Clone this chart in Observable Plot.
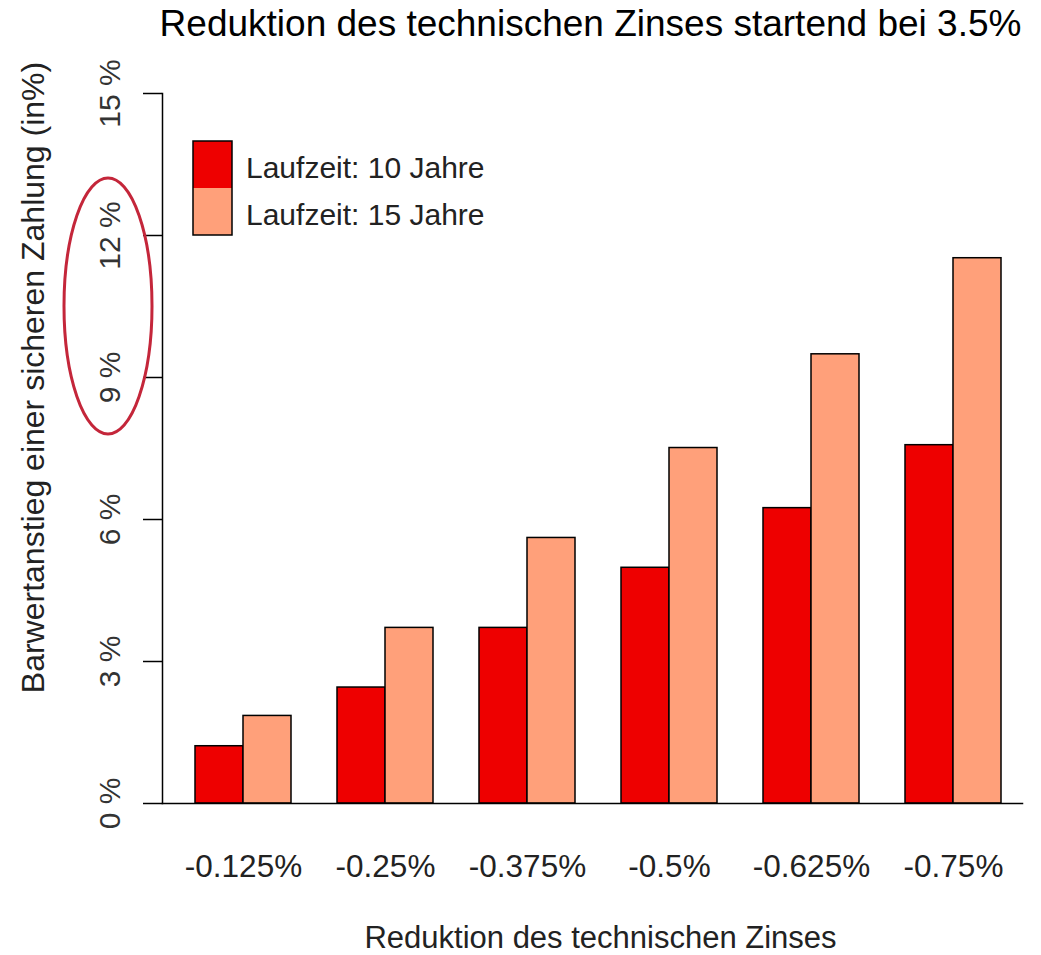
<!DOCTYPE html>
<html>
<head>
<meta charset="utf-8">
<script src="https://cdn.jsdelivr.net/npm/d3@7"></script>
<script src="https://cdn.jsdelivr.net/npm/@observablehq/plot@0.6"></script>
<style>
  html, body { margin: 0; padding: 0; background: #fff; }
  svg { font-family: "Liberation Sans", Arial, sans-serif; }
</style>
</head>
<body>
<div id="chart"></div>
<script>
const groups = ["-0.125%", "-0.25%", "-0.375%", "-0.5%", "-0.625%", "-0.75%"];
const series = ["Laufzeit: 10 Jahre", "Laufzeit: 15 Jahre"];
const values10 = [1.21, 2.45, 3.71, 4.98, 6.24, 7.57];
const values15 = [1.85, 3.71, 5.61, 7.51, 9.49, 11.52];
const yTicks = [0, 3, 6, 9, 12, 15];
const colors = ["#EE0000", "#FFA07A"];
const title = "Reduktion des technischen Zinses startend bei 3.5%";
const xLabel = "Reduktion des technischen Zinses";
const yLabel = "Barwertanstieg einer sicheren Zahlung (in%)";

const data = [];
groups.forEach((g, i) => {
  data.push({group: g, series: series[0], value: values10[i]});
  data.push({group: g, series: series[1], value: values15[i]});
});
const d10 = data.filter(d => d.series === series[0]);
const d15 = data.filter(d => d.series === series[1]);

const font = "Liberation Sans, Arial, sans-serif";

function annotations(index, scales, values, dimensions) {
  const g = d3.create("svg:g");
  // legend swatches
  const lx = 193, lw = 39;
  const tops = [141, 188], hs = [47, 47];
  series.forEach((s, i) => {
    g.append("rect").attr("x", lx).attr("y", tops[i]).attr("width", lw).attr("height", hs[i])
      .attr("fill", colors[i]).attr("stroke", "none");
  });
  g.append("rect").attr("x", lx).attr("y", 141).attr("width", lw).attr("height", 94)
    .attr("fill", "none").attr("stroke", "#000").attr("stroke-width", 1.5);
  series.forEach((s, i) => {
    g.append("text").attr("x", 246).attr("y", [167, 214][i]).attr("dy", "0.35em")
      .attr("text-anchor", "start")
      .attr("font-size", 30).attr("fill", "#222").text(s);
  });
  // ellipse annotation around 9% - 12% labels
  const cy = (scales.y(9) + scales.y(12)) / 2;
  g.append("ellipse").attr("cx", 108).attr("cy", cy).attr("rx", 44).attr("ry", 128)
    .attr("fill", "none").attr("stroke", "#C4263A").attr("stroke-width", 3);
  return g.node();
}

const chart = Plot.plot({
  width: 1041,
  height: 955,
  marginTop: 93,
  marginBottom: 152,
  marginLeft: 162,
  marginRight: 19,
  style: {fontFamily: font, background: "#fff"},
  x: {domain: groups, range: [194, 1001], paddingInner: 0.325, paddingOuter: 0, axis: null},
  y: {domain: [0, 15], axis: null},
  marks: [
    Plot.barY(d10, {x: "group", y: "value", fill: colors[0], stroke: "#000", strokeWidth: 1.5, insetRight: 48}),
    Plot.barY(d15, {x: "group", y: "value", fill: colors[1], stroke: "#000", strokeWidth: 1.5, insetLeft: 48}),
    Plot.frame({anchor: "left", stroke: "#000", strokeWidth: 1.5}),
    Plot.frame({anchor: "bottom", stroke: "#000", strokeWidth: 1.5}),
    Plot.axisY({ticks: yTicks, tickSize: 19, tickFormat: () => "", strokeWidth: 1.5, label: null}),
    Plot.text(yTicks, {y: d => d, text: d => d + " %", frameAnchor: "left", dx: -52, rotate: -90,
      fontSize: 30, fill: "#333", textAnchor: "middle", lineAnchor: "middle"}),
    Plot.text(groups, {x: d => d, text: d => d, frameAnchor: "bottom", dy: 63, fontSize: 31.5, fill: "#222",
      lineAnchor: "middle"}),
    Plot.text([xLabel], {text: d => d, frameAnchor: "bottom", dy: 135, dx: 8, fontSize: 31, fill: "#222",
      textAnchor: "middle", lineAnchor: "middle"}),
    Plot.text([yLabel], {text: d => d, frameAnchor: "left", dx: -129, dy: -71, rotate: -90, fontSize: 32,
      fill: "#222", textAnchor: "middle", lineAnchor: "middle"}),
    Plot.text([title], {text: d => d, frameAnchor: "top", dy: -69, dx: -2, fontSize: 37, fill: "#000",
      textAnchor: "middle", lineAnchor: "middle"}),
    annotations
  ]
});
document.getElementById("chart").appendChild(chart);
</script>
</body>
</html>
